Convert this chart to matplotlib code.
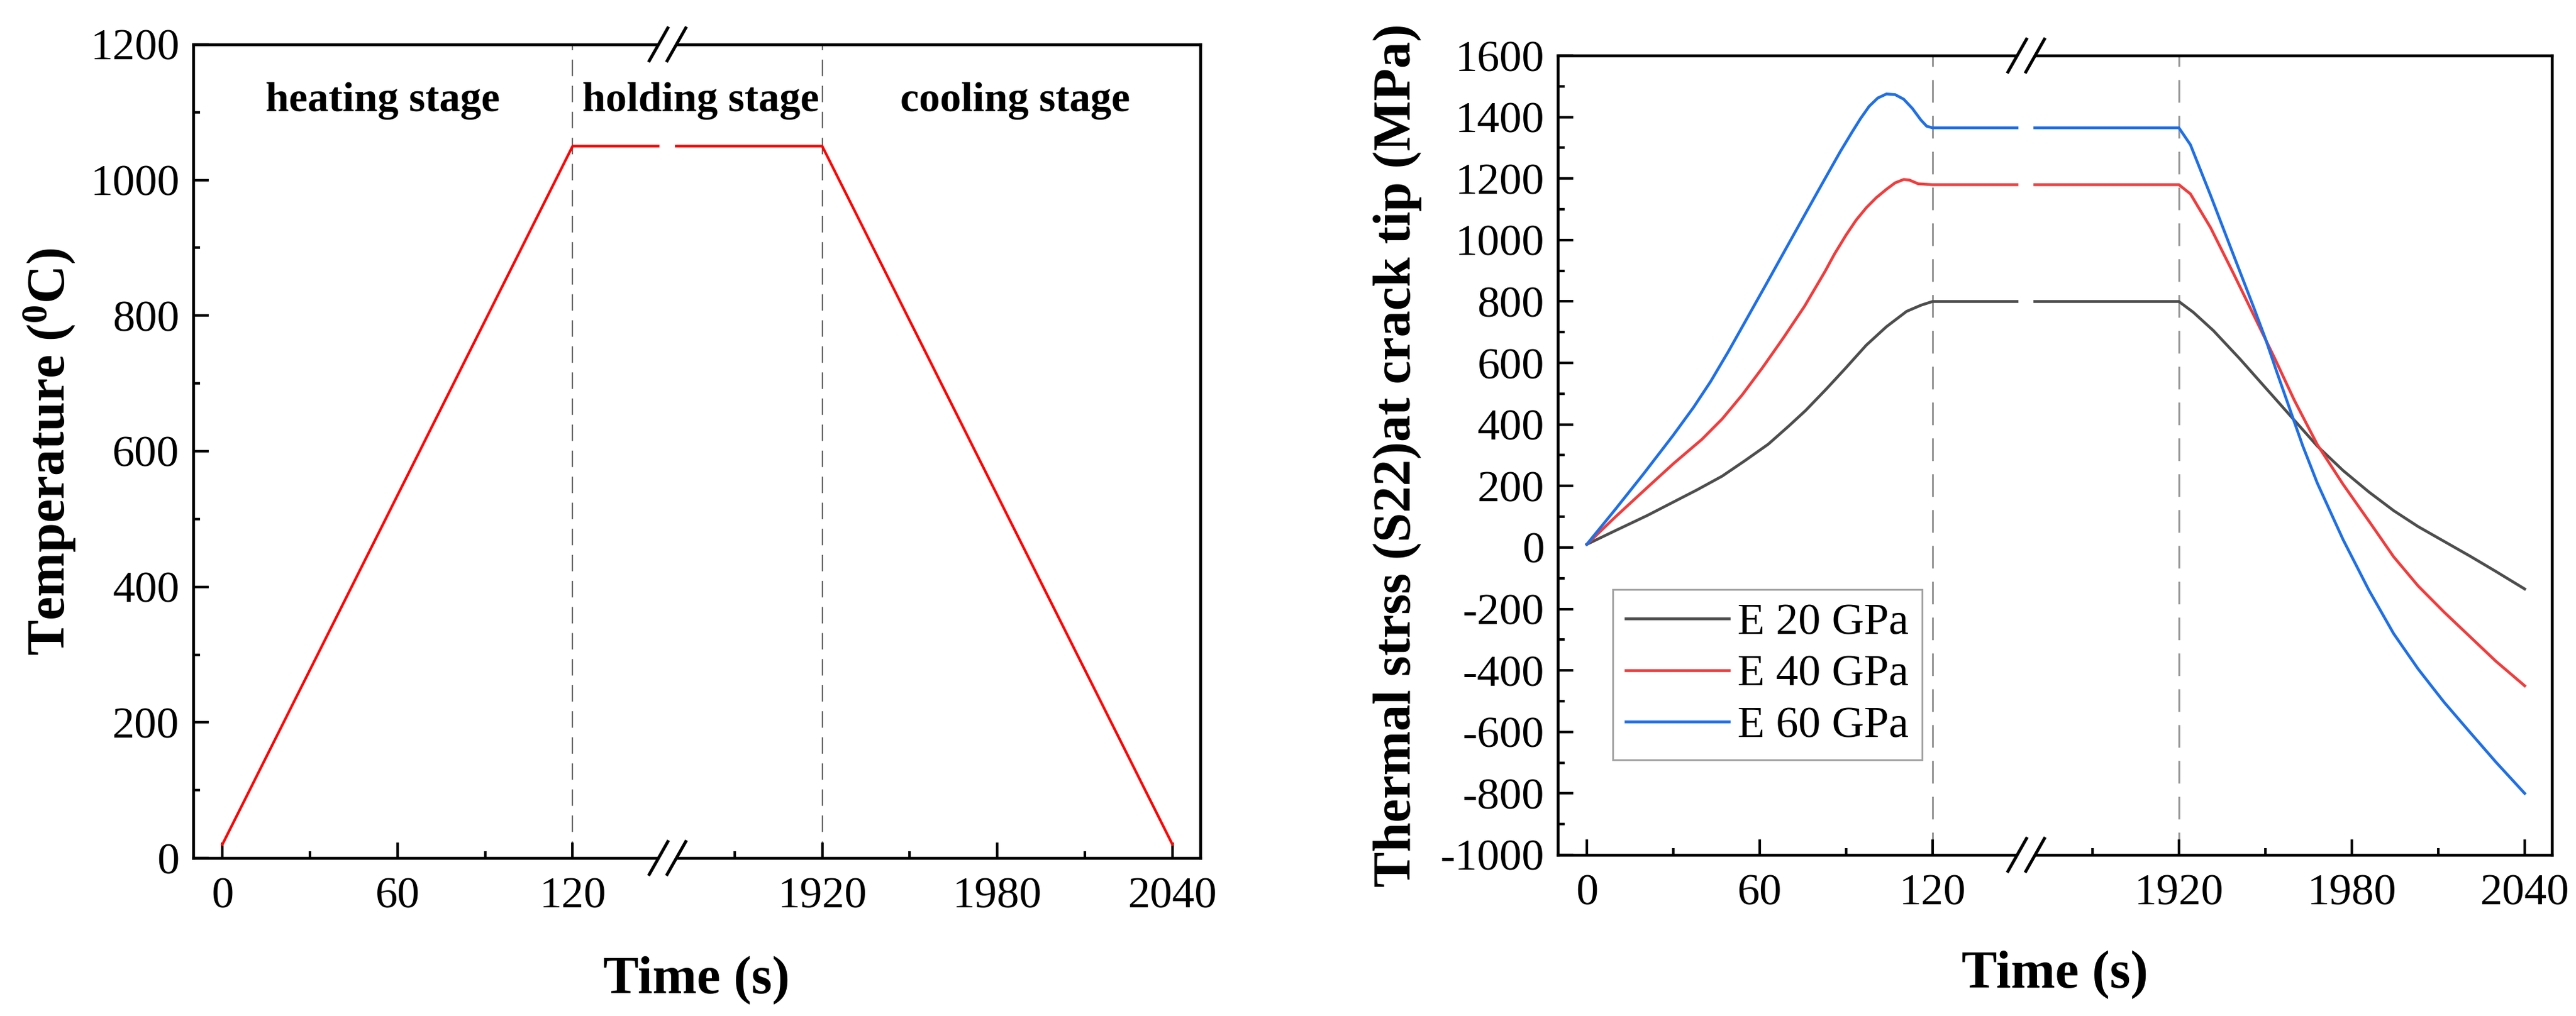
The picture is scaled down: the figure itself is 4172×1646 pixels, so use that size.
import numpy as np
import matplotlib.pyplot as plt
from matplotlib.ticker import FixedLocator, MultipleLocator

plt.rcParams['font.family'] = ['Liberation Serif', 'DejaVu Serif']
plt.rcParams['mathtext.fontset'] = 'custom'
plt.rcParams['mathtext.rm'] = 'Liberation Serif'
plt.rcParams['mathtext.bf'] = 'Liberation Serif:bold'
plt.rcParams['axes.unicode_minus'] = False

# temperature history (left)
temp_t = [0, 120, 1920, 2040]
temp_v = [20, 1050, 1050, 20]
stage_names = ['heating stage', 'holding stage', 'cooling stage']

# thermal stress at crack tip (right)
e20_t = [0, 10, 21, 38, 47, 55, 63, 70, 76, 83, 90, 97, 104, 111, 116, 120,
         1920, 1925, 1932, 1941, 1950, 1959, 1968, 1977, 1986, 1994.5,
         2003, 2012, 2021, 2030, 2040]
e20_v = [10, 55, 104, 186, 232, 283, 336, 394, 446, 514, 585, 658, 718, 768, 788, 800,
         800, 765, 705, 615, 520, 425, 330, 250, 180, 120,
         68, 20, -28, -78, -135]

e40_t = [0, 10, 21, 30, 40, 47, 54, 61, 68.4, 75.6, 82.7, 86, 89.9, 93.5, 97, 100.5, 104, 107, 110, 112, 115, 120,
         1920, 1924, 1931, 1939, 1946, 1953, 1960, 1968, 1977, 1986, 1994.5,
         2003, 2012, 2021, 2030, 2040]
e40_v = [10, 100, 195, 272, 352, 418, 497, 585, 684, 785, 898, 955, 1015, 1065, 1105, 1138, 1165, 1186, 1197, 1195, 1183, 1180,
         1180, 1150, 1040, 890, 755, 620, 480, 335, 205, 85, -30,
         -125, -210, -290, -370, -450]

e60_t = [0, 10, 20, 30, 37, 43, 49, 55, 62, 69, 76, 83, 88, 92, 95, 98, 101, 104, 107, 110, 113, 116, 118, 120,
         1920, 1924, 1931, 1939, 1946, 1950, 1954, 1958.5, 1963, 1968, 1977, 1986, 1994.5,
         2003, 2012, 2021, 2030, 2040]
e60_v = [10, 125, 243, 365, 455, 540, 635, 735, 852, 970, 1088, 1205, 1288, 1350, 1395, 1435, 1462, 1475, 1473, 1458, 1428, 1390, 1370, 1365,
         1365, 1310, 1145, 950, 780, 680, 570, 450, 330, 210, 25, -140, -280,
         -395, -503, -601, -698, -800]

labels = ['E 20 GPa', 'E 40 GPa', 'E 60 GPa']
colors = ['#4d4d4d', '#f03c3c', '#1f6fe5']

xtick_t = [0, 60, 120, 1920, 1980, 2040]
xminor_t = [30, 90, 1890, 1950, 2010]

# broken time axis: 120 .. 1920 squeezed into GAP units
GAP = 85.5
BRK = 152.5
GAP_LO, GAP_HI = 149.3, 155.5
XMIN, XMAX = -10, 335
W, H = 4172, 1646


def to_axis(t):
    t = np.asarray(t, float)
    return np.where(t <= 120, t, t - 1920 + 120 + GAP)


def with_gap(t, v):
    x = list(to_axis(t))
    y = list(v)
    i = list(t).index(1920)
    a, b = y[i - 1], y[i]
    x[i:i] = [GAP_LO, np.nan, GAP_HI]
    y[i:i] = [a, np.nan, b]
    return x, y


def style_axes(ax, ylo, yhi):
    ax.set_xlim(XMIN, XMAX)
    ax.set_ylim(ylo, yhi)
    ax.xaxis.set_major_locator(FixedLocator(to_axis(xtick_t)))
    ax.xaxis.set_minor_locator(FixedLocator(to_axis(xminor_t)))
    ax.set_xticklabels([str(t) for t in xtick_t])
    ax.yaxis.set_major_locator(MultipleLocator(200))
    ax.yaxis.set_minor_locator(MultipleLocator(100))
    ax.tick_params(which='both', direction='in', top=False, right=False,
                   width=3, labelsize=52)
    ax.tick_params(which='major', length=18)
    ax.tick_params(which='minor', length=8)
    ax.tick_params(axis='x', pad=22)
    ax.tick_params(axis='y', pad=16)
    for s in ax.spines.values():
        s.set_linewidth(3.3)
    # break marks "//" on top and bottom spine, spine cut between them
    fx = (BRK - XMIN) / (XMAX - XMIN)
    pos = ax.get_position()
    w = pos.width * W
    h = pos.height * H
    dx, dy = 15 / w, 26.5 / h
    sep = 14.5 / w
    for yy in (0, 1):
        ax.plot([fx - sep, fx + sep], [yy, yy], color='white', lw=4.5,
                transform=ax.transAxes, clip_on=False, zorder=4,
                solid_capstyle='butt')
        for off in (-sep, sep):
            ax.plot([fx + off - dx, fx + off + dx], [yy - dy, yy + dy],
                    color='black', lw=3.6, transform=ax.transAxes,
                    clip_on=False, zorder=5)


fig = plt.figure(figsize=(W / 100, H / 100), dpi=100)

# left: temperature
ax1 = fig.add_axes([0.0750, 0.1555, 0.3909, 0.8008])
for t in (120, 1920):
    ax1.axvline(to_axis([t])[0], color='#666666', lw=1.6, dashes=(12, 7), zorder=1)
x, y = with_gap(temp_t, temp_v)
ax1.plot(x, y, color='#ff0000', lw=3, zorder=3)
style_axes(ax1, 0, 1200)
stage_x = [55, 163.8, 271.7]
for sx, name in zip(stage_x, stage_names):
    ax1.text(sx, 1117, name, ha='center', va='center', fontsize=49, fontweight='bold')
fig.text(80 / W, 1 - 732 / H, r'Temperature ($\mathbf{^{0}}$C)', rotation=90,
         ha='center', va='center', fontsize=62, fontweight='bold')
fig.text(1128 / W, 1 - 1588 / H, 'Time (s)', ha='center', va='center',
         fontsize=62, fontweight='bold')

# right: thermal stress
ax2 = fig.add_axes([0.6048, 0.1586, 0.3859, 0.7867])
for t in (120, 1920):
    ax2.axvline(to_axis([t])[0], color='#999999', lw=2.2, dashes=(12, 7), zorder=1)
for t, v, lab, c in zip([e20_t, e40_t, e60_t], [e20_v, e40_v, e60_v], labels, colors):
    x, y = with_gap(t, v)
    ax2.plot(x, y, color=c, lw=3.3, label=lab, zorder=3)
style_axes(ax2, -1000, 1600)
leg = ax2.legend(loc='upper left', bbox_to_anchor=(0.055, 0.332), fontsize=52,
                 frameon=True, fancybox=False, edgecolor='#888888',
                 handlelength=2.3, handletextpad=0.2, labelspacing=0.25,
                 borderpad=0.3, borderaxespad=0)
leg.get_frame().set_linewidth(2)
fig.text(2263 / W, 1 - 738 / H, 'Thermal strss (S22)at crack tip (MPa)', rotation=90,
         ha='center', va='center', fontsize=62, fontweight='bold')
fig.text(3328 / W, 1 - 1579 / H, 'Time (s)', ha='center', va='center',
         fontsize=62, fontweight='bold')

fig.savefig('out.png', dpi=100)
